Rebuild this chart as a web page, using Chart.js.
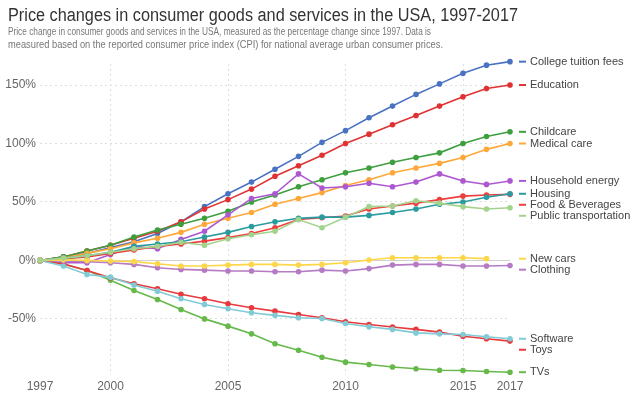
<!DOCTYPE html>
<html><head><meta charset="utf-8">
<script src="https://cdn.jsdelivr.net/npm/chart.js@4/dist/chart.umd.min.js"></script>
<style>html,body{margin:0;padding:0;background:#fff}#wrap{width:644px;height:401px;position:relative}</style>
</head><body><div id="wrap"><canvas id="c" width="644" height="401"></canvas></div>
<script>
const years = [1997,1998,1999,2000,2001,2002,2003,2004,2005,2006,2007,2008,2009,2010,2011,2012,2013,2014,2015,2016,2017];
const xTicks = [1997,2000,2005,2010,2015,2017];
const yTicks = [-50,0,50,100,150];

const collegeTuition = [0,3,6,11,16,23,33,46,57,67,78,89,101,111,122,132,142,151,160,167,170];
const education = [0,3,8,13,19,25,33,44,52,61,72,81,90,100,108,116,124,132,140,147,150];
const childcare = [0,3,8,13,20,26,31,36,42,50,56,63,69,75,79,84,88,92,100,106,110];
const medicalCare = [0,2,6,10,15,19,24,31,36,41,48,53,58,64,69,75,79,83,88,95,100];
const householdEnergy = [0,-2,-2,5,12,10,18,25,39,53,57,74,62,63,66,63,67,74,68,65,68];
const housing = [0,2,4,7,12,14,16,20,24,29,33,36,37,37,38.5,41,44,48,50,54,57];
const foodBeverages = [0,1.5,3,6,9,12,14,16.5,19.5,23,28,35,36.5,38,44,46.5,49,52,55,56,56.5];
const publicTransport = [0,2,4,7,10,12,15.5,13,18.5,22,25,35,28,37,46,46.5,51,49,46,44,45];
const newCars = [0,0.5,0,-0.5,-1,-2.8,-4.8,-4.8,-4,-3.4,-3.4,-4,-3.4,-2,0.3,2.3,2.3,2.3,2.3,1.5,null];
const clothing = [0,-0.5,-1,-2,-3.4,-6.3,-7.7,-8.3,-9,-9,-9.7,-9.7,-8.3,-9,-7,-4,-3.4,-3.4,-4.8,-4.8,-4.3];
const software = [0,-4.8,-12,-14.3,-21,-26.3,-32.8,-37.7,-41.4,-44.8,-47,-49,-49.7,-54,-56.8,-59,-62,-62.8,-63.4,-65.3,-67];
const toys = [0,-3,-8.6,-14.8,-20,-24.3,-29,-32.8,-37,-40.5,-43.4,-46.2,-49,-52.5,-54.8,-57,-59,-61.3,-64.8,-67,-69];
const tvs = [0,-3,-8.6,-17,-25.7,-33.4,-42,-50,-56.2,-62.8,-71.3,-76.8,-82.8,-87,-89,-91.2,-92.7,-94,-94.2,-95,-95.6];

const titleText = 'Price changes in consumer goods and services in the USA, 1997-2017';
const subtitleLines = ['Price change in consumer goods and services in the USA, measured as the percentage change since 1997. Data is',
  'measured based on the reported consumer price index (CPI) for national average urban consumer prices.'];

function mk(label, values, color) {
  return {
    label: label,
    data: years.map((y, i) => ({x: y, y: values[i]})),
    borderColor: color, backgroundColor: color,
    borderWidth: 1.6, pointRadius: 2, pointHoverRadius: 2,
    tension: 0, clip: false, spanGaps: false
  };
}

const datasets = [
  mk('Public transportation', publicTransport, '#a3d38c'),
  mk('New cars', newCars, '#fdd64a'),
  mk('Clothing', clothing, '#b57bc4'),
  mk('Software', software, '#80cbd6'),
  mk('Toys', toys, '#e8393c'),
  mk('TVs', tvs, '#66b94a'),
  mk('Housing', housing, '#2a9b9f'),
  mk('Food & Beverages', foodBeverages, '#ef3e3e'),
  mk('Household energy', householdEnergy, '#ad58d1'),
  mk('Medical care', medicalCare, '#ffa83a'),
  mk('Childcare', childcare, '#3d9f3d'),
  mk('Education', education, '#e03232'),
  mk('College tuition fees', collegeTuition, '#4a72c2')
];

const FONT = '"Liberation Sans", Arial, sans-serif';

const headerPlugin = {
  id: 'header',
  afterDraw(chart) {
    const ctx = chart.ctx;
    ctx.save();
    ctx.textAlign = 'left';
    ctx.textBaseline = 'alphabetic';
    ctx.fillStyle = '#333';
    ctx.font = '18px ' + FONT;
    ctx.fillText(titleText, 8, 21, 510);
    ctx.fillStyle = '#777';
    ctx.font = '11px ' + FONT;
    ctx.fillText(subtitleLines[0], 8, 35, 423);
    ctx.fillText(subtitleLines[1], 8, 48, 435);
    ctx.restore();
  }
};

const endLabels = {
  id: 'endLabels',
  afterDatasetsDraw(chart) {
    const ctx = chart.ctx;
    const ys = chart.scales.y;
    const area = chart.chartArea;
    const items = [];
    chart.data.datasets.forEach(ds => {
      let last = null;
      for (let i = ds.data.length - 1; i >= 0; i--) { if (ds.data[i].y !== null) { last = ds.data[i].y; break; } }
      items.push({label: ds.label, color: ds.borderColor, y: ys.getPixelForValue(last)});
    });
    items.sort((a, b) => a.y - b.y);
    const gap = 11;
    for (let i = 1; i < items.length; i++) {
      if (items[i].y < items[i-1].y + gap) items[i].y = items[i-1].y + gap;
    }
    ctx.save();
    ctx.font = '11px ' + FONT;
    ctx.textBaseline = 'middle';
    ctx.textAlign = 'left';
    items.forEach(it => {
      ctx.strokeStyle = it.color;
      ctx.lineWidth = 2;
      ctx.beginPath();
      ctx.moveTo(area.right + 9, it.y);
      ctx.lineTo(area.right + 16, it.y);
      ctx.stroke();
      ctx.fillStyle = '#444';
      ctx.fillText(it.label, area.right + 20, it.y);
    });
    ctx.restore();
  }
};

new Chart(document.getElementById('c'), {
  type: 'line',
  data: {datasets: datasets},
  options: {
    responsive: false, animation: false, devicePixelRatio: 1,
    layout: {padding: {top: 64, right: 134, bottom: 4, left: 0}},
    plugins: {legend: {display: false}, tooltip: {enabled: false}, title: {display: false}},
    scales: {
      x: {
        type: 'linear', min: 1997, max: 2017,
        afterBuildTicks: s => { s.ticks = xTicks.map(v => ({value: v})); },
        afterFit: s => { s.height = 22; },
        ticks: {callback: v => String(v), color: '#666', font: {family: FONT, size: 12}, padding: 4, maxRotation: 0, autoSkip: false},
        grid: {drawTicks: false, color: c => (c.tick && (c.tick.value === 1997 || c.tick.value === 2017)) ? 'rgba(0,0,0,0)' : '#dedede', lineWidth: 1},
        border: {display: false, dash: [2, 3]}
      },
      y: {
        min: -98, max: 168,
        afterBuildTicks: s => { s.ticks = yTicks.map(v => ({value: v})); },
        afterFit: s => { s.width = 40; },
        ticks: {callback: v => v + '%', color: '#666', font: {family: FONT, size: 12}, padding: 4},
        grid: {drawTicks: false, color: c => (c.tick && c.tick.value === 0) ? '#d0d0d0' : '#dedede', lineWidth: 1},
        border: {display: false, dash: c => (c.tick && c.tick.value === 0) ? [] : [2, 3]}
      }
    }
  },
  plugins: [headerPlugin, endLabels]
});
</script>
</body></html>
